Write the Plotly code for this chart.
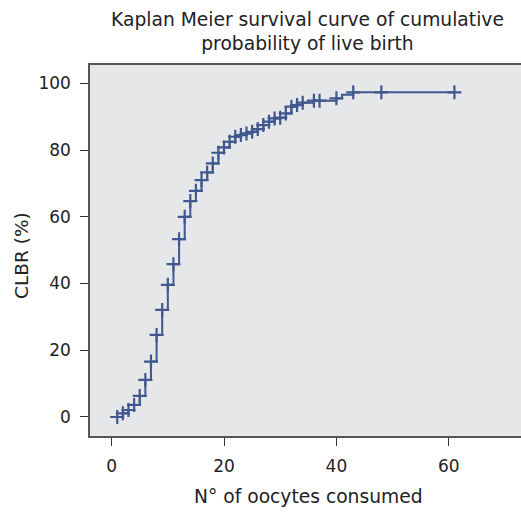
import plotly.graph_objects as go

oocytes = [1, 2, 3, 4, 5, 6, 7, 8, 9, 10, 11, 12, 13, 14, 15, 16, 17, 18, 19, 20,
           21, 22, 23, 24, 25, 26, 27, 28, 29, 30, 31, 32, 33, 34, 36, 37, 40, 41, 43, 48, 61]
clbr = [0, 1.1, 2.1, 3.6, 6.3, 11.1, 16.6, 24.6, 32.1, 39.6, 45.8, 53.3, 60.0, 64.7, 67.8,
        71.0, 73.3, 76.0, 79.2, 80.8, 82.5, 84.0, 84.5, 85.0, 85.5, 86.3, 87.5, 88.5, 89.5,
        89.7, 91.0, 93.0, 93.5, 94.2, 94.8, 94.8, 95.5, 96.6, 97.3, 97.3, 97.3]
censored = [True] * len(oocytes)
censored[oocytes.index(41)] = False

x_ticks = [0, 20, 40, 60]
y_ticks = [0, 20, 40, 60, 80, 100]

title_text = "Kaplan Meier survival curve of cumulative<br>probability of live birth"
x_title = "N° of oocytes consumed"
y_title = "CLBR (%)"

blue = "#40588f"
font = "DejaVu Sans, Liberation Sans, Arial, sans-serif"
txt = "#222"

fig = go.Figure()
fig.add_trace(go.Scatter(x=oocytes, y=clbr, mode="lines", line=dict(color=blue, width=2, shape="hv"),
                         hoverinfo="skip", showlegend=False))
fig.add_trace(go.Scatter(x=[a for a, c in zip(oocytes, censored) if c],
                         y=[b for b, c in zip(clbr, censored) if c],
                         mode="markers",
                         marker=dict(symbol="cross-thin", size=10, line=dict(color=blue, width=2.2)),
                         showlegend=False))

fig.add_annotation(text=title_text, xref="paper", yref="paper", x=0.5035, y=1.0916,
                   xanchor="center", yanchor="middle", showarrow=False,
                   font=dict(family=font, size=18.7, color=txt))
fig.add_annotation(text=x_title, xref="paper", yref="paper", x=0.506, y=-0.1644,
                   xanchor="center", yanchor="middle", showarrow=False,
                   font=dict(family=font, size=18.7, color=txt))
fig.add_annotation(text=y_title, xref="paper", yref="paper", x=-0.1578, y=0.488,
                   xanchor="center", yanchor="middle", showarrow=False, textangle=-90,
                   font=dict(family=font, size=18.5, color=txt))

fig.update_layout(
    width=521, height=512,
    margin=dict(l=90, r=0, t=65, b=76),
    paper_bgcolor="white", plot_bgcolor="#e6e7e9",
    font=dict(family=font, size=17, color=txt),
    xaxis=dict(range=[-3.85, 72.85], tickvals=x_ticks, ticks="outside", ticklen=8, tickwidth=1.2,
               tickcolor="#333", showgrid=False, zeroline=False, showline=True, linecolor="#555",
               linewidth=1.5, mirror=True, ticklabelstandoff=6),
    yaxis=dict(range=[-5.7, 105.5], tickvals=y_ticks, ticks="outside", ticklen=8, tickwidth=1.2,
               tickcolor="#333", showgrid=False, zeroline=False, showline=True, linecolor="#555",
               linewidth=1.5, ticklabelstandoff=6),
)

fig.write_html("out.html")
